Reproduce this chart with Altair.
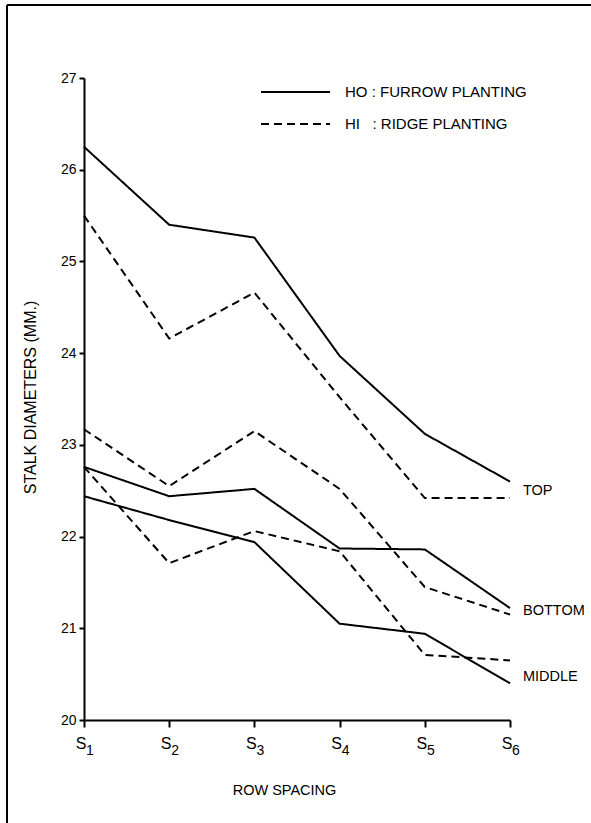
import altair as alt
import pandas as pd

spacings = ["S1", "S2", "S3", "S4", "S5", "S6"]

top_ho = [26.25, 25.40, 25.26, 23.97, 23.12, 22.60]
top_hi = [25.50, 24.16, 24.66, 23.52, 22.42, 22.42]
bottom_ho = [22.76, 22.44, 22.52, 21.87, 21.86, 21.22]
bottom_hi = [23.17, 22.55, 23.15, 22.52, 21.45, 21.15]
middle_ho = [22.44, 22.18, 21.94, 21.05, 20.94, 20.40]
middle_hi = [22.76, 21.71, 22.06, 21.84, 20.71, 20.65]

end_labels = ["TOP", "BOTTOM", "MIDDLE"]
end_label_values = [22.50, 21.19, 20.47]

legend_ho = "HO : FURROW PLANTING"
legend_hi = "HI\u00a0\u00a0 : RIDGE PLANTING"

FONT = "'Liberation Sans Narrow', 'Liberation Sans', Arial, sans-serif"
DASH = [8, 5]

rows = []
for pos, ho, hi in [("TOP", top_ho, top_hi), ("BOTTOM", bottom_ho, bottom_hi), ("MIDDLE", middle_ho, middle_hi)]:
    for s, v in zip(spacings, ho):
        rows.append({"spacing": s, "value": v, "planting": "HO", "group": pos + "-HO"})
    for s, v in zip(spacings, hi):
        rows.append({"spacing": s, "value": v, "planting": "HI", "group": pos + "-HI"})
df = pd.DataFrame(rows)

lab_df = pd.DataFrame({"spacing": [spacings[-1]] * 3, "value": end_label_values, "label": end_labels})
tick_df = pd.DataFrame({"spacing": spacings, "value": [20] * len(spacings)})

x_enc = alt.X(
    "spacing:O",
    sort=spacings,
    scale=alt.Scale(type="point", padding=0),
    axis=alt.Axis(
        title="ROW SPACING",
        labels=False,
        tickSize=7,
        tickWidth=2,
        tickColor="black",
        domainColor="black",
        domainWidth=2,
        titleFont=FONT,
        titleFontSize=14.5,
        titleFontWeight="normal",
        titleColor="black",
        titleX=200,
        titleY=70,
        titleBaseline="middle",
    ),
)
y_enc = alt.Y(
    "value:Q",
    scale=alt.Scale(domain=[20, 27], nice=False, zero=False),
    axis=alt.Axis(
        title="STALK DIAMETERS (MM.)",
        values=[20, 21, 22, 23, 24, 25, 26, 27],
        format="d",
        grid=False,
        labelFont=FONT,
        labelFontSize=14,
        labelColor="black",
        labelPadding=3,
        tickSize=5,
        tickWidth=2,
        tickColor="black",
        domainColor="black",
        domainWidth=2,
        titleFont=FONT,
        titleFontSize=16,
        titleFontWeight="normal",
        titleColor="black",
        titleX=-54,
        titleY=319,
        titleAngle=-90,
        titleAlign="center",
        titleBaseline="middle",
    ),
)

dash_scale = alt.Scale(domain=["HO", "HI"], range=[[1, 0], DASH])

lines = alt.Chart(df).mark_line(color="black", strokeWidth=2).encode(
    x=x_enc,
    y=y_enc,
    detail="group:N",
    strokeDash=alt.StrokeDash("planting:N", scale=dash_scale, legend=None),
)

labels = alt.Chart(lab_df).mark_text(
    align="left", baseline="middle", dx=13, font=FONT, fontSize=14.5, color="black"
).encode(
    x=alt.X("spacing:O", sort=spacings),
    y=alt.Y("value:Q"),
    text="label:N",
)

tick_s = alt.Chart(tick_df).transform_calculate(
    letter="substring(datum.spacing, 0, 1)"
).mark_text(
    align="center", baseline="middle", dx=-3, dy=24, font=FONT, fontSize=16, color="black"
).encode(
    x=alt.X("spacing:O", sort=spacings),
    y=alt.Y("value:Q"),
    text="letter:N",
)
tick_n = alt.Chart(tick_df).transform_calculate(
    digit="substring(datum.spacing, 1)"
).mark_text(
    align="center", baseline="middle", dx=6, dy=31, font=FONT, fontSize=14, color="black"
).encode(
    x=alt.X("spacing:O", sort=spacings),
    y=alt.Y("value:Q"),
    text="digit:N",
)

one = pd.DataFrame({"a": [0]})

leg_line_ho = alt.Chart(one).mark_rule(color="black", strokeWidth=2).encode(
    x=alt.value(177), x2=alt.value(246), y=alt.value(14)
)
leg_line_hi = alt.Chart(one).mark_rule(color="black", strokeWidth=2, strokeDash=DASH).encode(
    x=alt.value(177), x2=alt.value(246), y=alt.value(46)
)
leg_text_ho = alt.Chart(pd.DataFrame({"t": [legend_ho]})).mark_text(
    align="left", baseline="middle", font=FONT, fontSize=15, color="black"
).encode(x=alt.value(261), y=alt.value(14), text="t:N")
leg_text_hi = alt.Chart(pd.DataFrame({"t": [legend_hi]})).mark_text(
    align="left", baseline="middle", font=FONT, fontSize=15, color="black"
).encode(x=alt.value(261), y=alt.value(46), text="t:N")

frame_top = alt.Chart(one).mark_rule(color="black", strokeWidth=2).encode(
    x=alt.value(-77), x2=alt.value(507), y=alt.value(-73)
)
frame_left = alt.Chart(one).mark_rule(color="black", strokeWidth=2).encode(
    x=alt.value(-77), y=alt.value(-73), y2=alt.value(745)
)

chart = (
    alt.layer(lines, labels, tick_s, tick_n, leg_line_ho, leg_line_hi, leg_text_ho, leg_text_hi, frame_top, frame_left)
    .properties(
        width=426,
        height=642,
        autosize=alt.AutoSizeParams(type="none"),
        padding={"left": 84, "top": 78, "right": 81, "bottom": 103},
        background="white",
    )
    .configure_view(stroke=None)
)

chart.save("out.html", embed_options={"renderer": "svg", "actions": False})
